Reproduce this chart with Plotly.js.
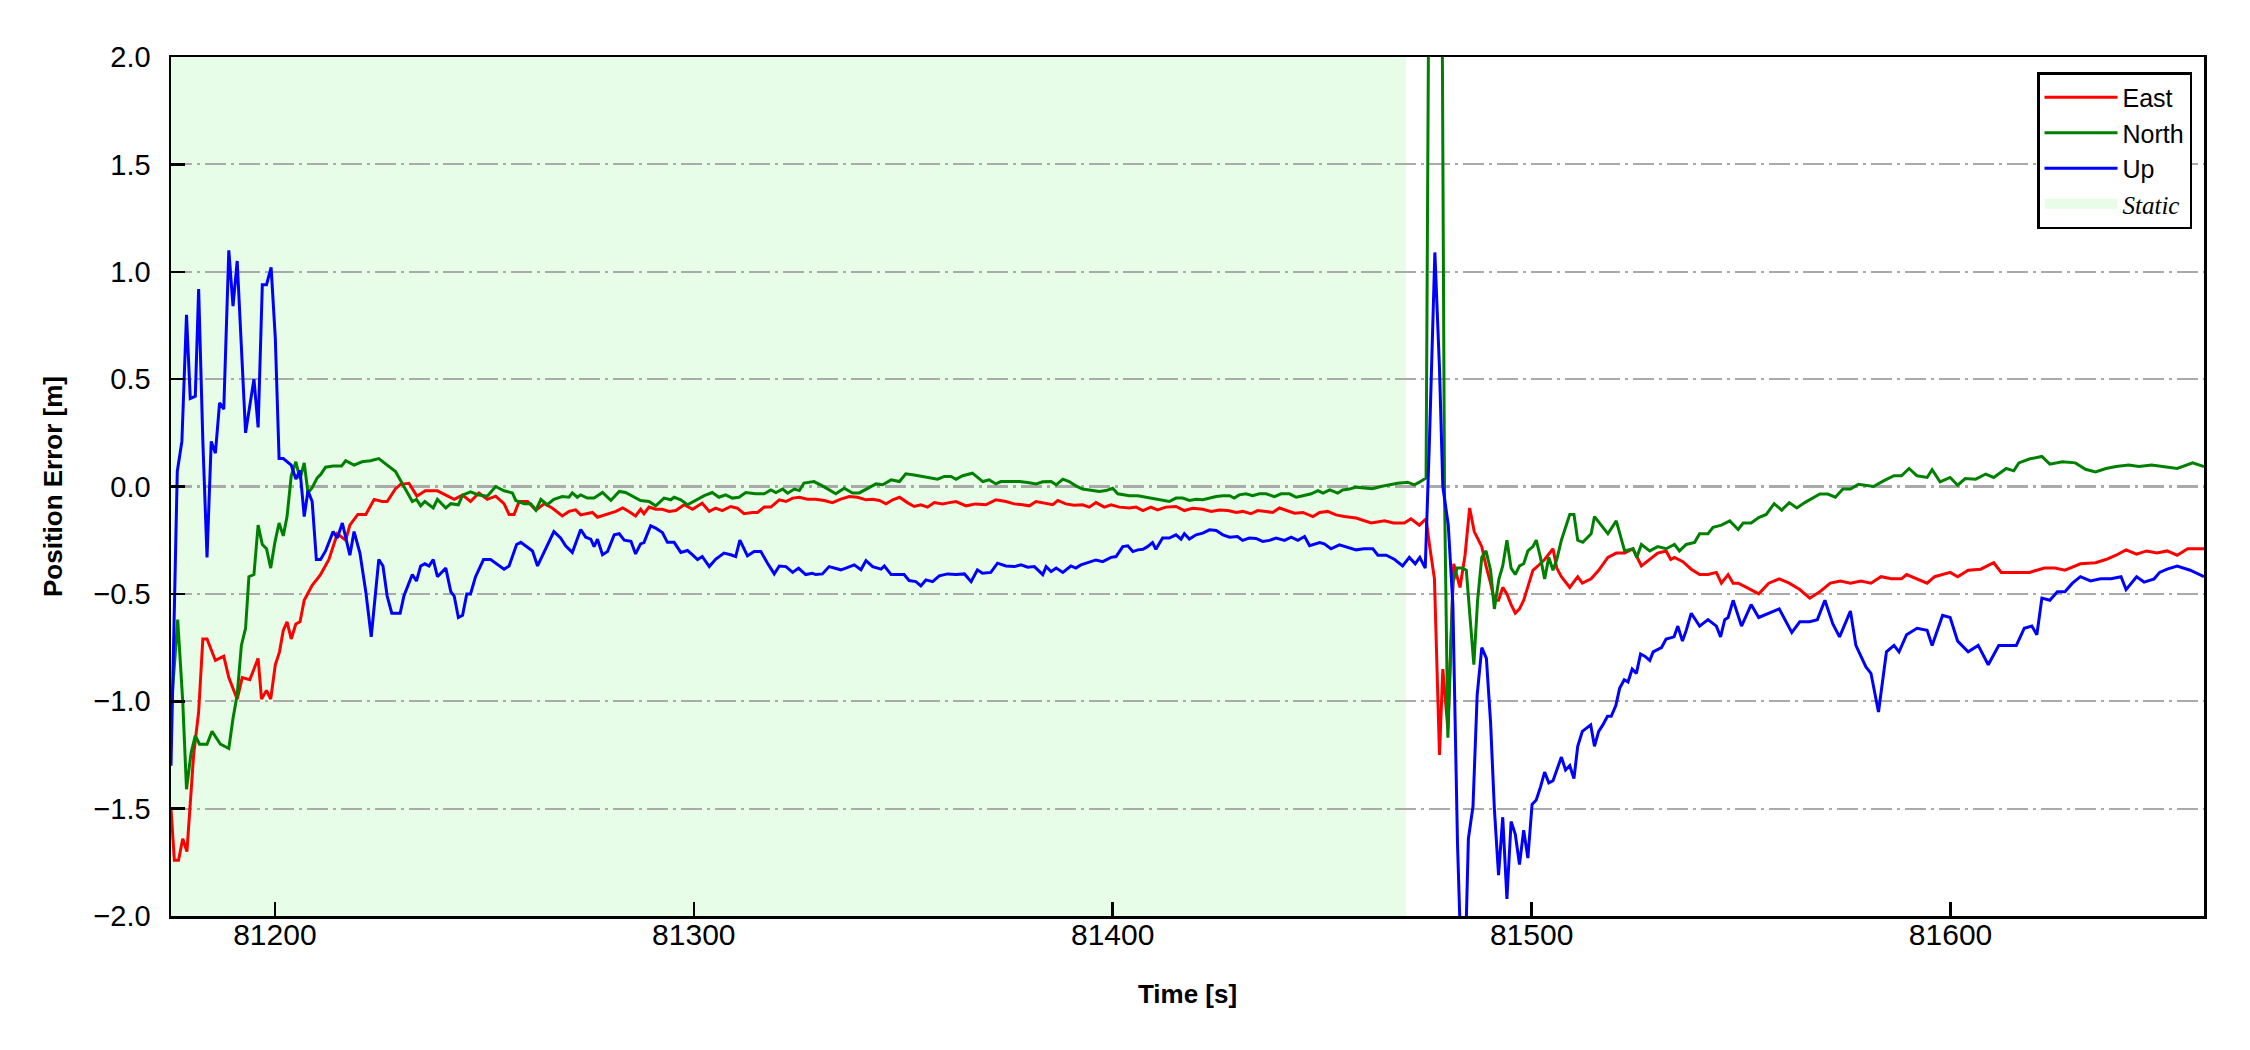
<!DOCTYPE html>
<html>
<head>
<meta charset="utf-8">
<script src="https://cdn.plot.ly/plotly-3.0.1.min.js"></script>
<style>
  html, body { margin: 0; padding: 0; background: #ffffff; }
  #chart { width: 2250px; height: 1050px; }
</style>
</head>
<body>
<div id="chart"></div>
<script>
// ---- Data (time [s], error [m]) ----
const seriesNames = ["East", "North", "Up"];
const staticLabel = "Static";
const staticStart = 81175.2;
const staticEnd = 81470.0;
const timeRange = [81175.2, 81660.5];
const yRange = [-2.0, 2.0];

const eastData = [
[81175.2,-1.50],[81176,-1.74],[81177,-1.74],[81178,-1.64],[81179,-1.70],[81180.6,-1.25],[81181.8,-1.05],[81182.8,-0.71],[81183.8,-0.71],[81185.8,-0.81],[81187.8,-0.79],[81189,-0.89],[81189.8,-0.93],[81191,-0.99],[81192.2,-0.89],[81194,-0.90],[81196,-0.80],[81196.8,-0.99],[81198,-0.95],[81199,-0.99],[81200.1,-0.83],[81201.1,-0.77],[81202,-0.67],[81202.9,-0.63],[81203.9,-0.71],[81205,-0.64],[81206,-0.63],[81207,-0.53],[81208.9,-0.46],[81210.9,-0.41],[81212.9,-0.34],[81214.9,-0.22],[81216.9,-0.25],[81217.9,-0.18],[81219.8,-0.13],[81221.7,-0.13],[81223.7,-0.06],[81225.6,-0.07],[81226.8,-0.07],[81228.8,-0.01],[81230,0.01],[81232,0.015],[81233.9,-0.045],[81235.9,-0.02],[81238.8,-0.02],[81240.8,-0.04],[81242.8,-0.06],[81244.8,-0.04],[81246.7,-0.07],[81248.7,-0.03],[81250.7,-0.06],[81252.7,-0.045],[81254.7,-0.08],[81255.9,-0.13],[81257.1,-0.13],[81258.3,-0.07],[81260.3,-0.07],[81262.3,-0.11],[81264.3,-0.08],[81266.2,-0.10],
[81268.6,-0.137],[81270.2,-0.116],[81271.8,-0.109],[81273,-0.132],[81274.6,-0.124],[81275.8,-0.121],[81277,-0.143],[81278.6,-0.132],[81280.2,-0.121],[81281.4,-0.116],[81283,-0.10],[81284.5,-0.116],[81286.1,-0.137],[81287.3,-0.106],[81288.1,-0.127],[81289.3,-0.096],[81290.9,-0.106],[81292.5,-0.106],[81294.1,-0.116],[81295.7,-0.112],[81297.7,-0.085],[81299.7,-0.106],[81302,-0.078],[81303.7,-0.116],[81305.2,-0.101],[81306.8,-0.112],[81308.8,-0.093],[81310.4,-0.101],[81312,-0.127],[81314,-0.121],[81315.2,-0.121],[81316.8,-0.096],[81318.4,-0.096],[81320.4,-0.062],[81322,-0.07],[81323.6,-0.054],[81325.2,-0.05],[81327.1,-0.059],[81329.1,-0.059],[81331.1,-0.065],[81333.1,-0.075],[81335.1,-0.059],[81337.1,-0.047],[81339.1,-0.05],[81341.1,-0.062],[81342.7,-0.059],[81344.3,-0.065],[81345.9,-0.081],[81347.5,-0.062],[81349.1,-0.05],[81351,-0.075],[81352.6,-0.093],[81354.2,-0.085],[81355.8,-0.096],[81357.4,-0.075],[81359.4,-0.081],[81361,-0.075],[81362.6,-0.07],
[81365,-0.09],[81367.3,-0.081],[81369.7,-0.085],[81372.1,-0.062],[81374.5,-0.07],[81376.5,-0.081],[81378.5,-0.085],[81380.1,-0.09],[81381.7,-0.07],[81383.7,-0.078],[81385.7,-0.085],[81386.9,-0.065],[81388.8,-0.081],[81390.8,-0.087],[81392.8,-0.085],[81394.4,-0.096],[81396,-0.075],[81398,-0.096],[81399.6,-0.085],[81401.6,-0.096],[81404,-0.10],[81405.6,-0.096],[81407.2,-0.112],[81409.1,-0.096],[81410.7,-0.109],[81412.7,-0.096],[81415.1,-0.093],[81417.1,-0.112],[81419.1,-0.101],[81421.5,-0.106],[81423.5,-0.116],[81425.5,-0.109],[81427.5,-0.112],[81429.5,-0.121],[81431,-0.116],[81433,-0.127],[81434.6,-0.112],[81436.6,-0.116],[81438.2,-0.121],[81439.8,-0.10],[81441.4,-0.112],[81443.4,-0.124],[81445.4,-0.121],[81447.8,-0.14],[81449.4,-0.121],[81451.3,-0.116],[81453.3,-0.132],[81455.3,-0.14],[81458.1,-0.147],
[81461.7,-0.17],[81464.9,-0.16],[81467,-0.17],[81469.6,-0.17],[81471.2,-0.15],[81473.2,-0.18],[81474.8,-0.15],[81475.6,-0.27],[81476.8,-0.43],[81478,-1.25],[81478.8,-0.85],[81480,-1.13],[81481.4,-0.36],[81482.9,-0.47],[81484.1,-0.32],[81485.2,-0.10],[81486.3,-0.21],[81488.1,-0.28],[81489.1,-0.37],[81490.2,-0.45],[81491.1,-0.53],[81492.1,-0.53],[81493.1,-0.47],[81494.1,-0.50],[81495.1,-0.55],[81496.1,-0.59],[81497.1,-0.57],[81498.1,-0.53],[81499.1,-0.47],[81500.3,-0.39],[81501.5,-0.37],[81503.1,-0.34],[81505.1,-0.29],[81506,-0.38],[81507.1,-0.42],[81509.1,-0.47],[81511,-0.42],[81512.1,-0.45],[81514.2,-0.43],[81516,-0.39],[81518.2,-0.33],[81520.2,-0.31],[81522.2,-0.31],[81524.2,-0.29],[81526.2,-0.37],[81528.2,-0.34],[81530.1,-0.31],[81532.1,-0.30],[81533.2,-0.34],[81534.1,-0.33],[81536.1,-0.35],[81538.1,-0.385],[81540.1,-0.41],[81542.1,-0.41],[81544.1,-0.40],[81545.3,-0.45],[81546.9,-0.41],[81548.1,-0.45],[81549.3,-0.45],[81551.3,-0.47],
[81554.2,-0.50],[81556.6,-0.45],[81559.1,-0.43],[81561.5,-0.45],[81564,-0.48],[81566.4,-0.52],[81568.8,-0.49],[81571.3,-0.45],[81573.7,-0.44],[81576.1,-0.45],[81578.6,-0.44],[81581,-0.45],[81583.4,-0.42],[81585.9,-0.43],[81588.3,-0.43],[81589.5,-0.41],[81592,-0.43],[81594.4,-0.45],[81596.2,-0.42],[81598.1,-0.41],[81599.9,-0.40],[81601.7,-0.42],[81604.2,-0.39],[81607.2,-0.385],[81610.3,-0.355],[81612.1,-0.40],[81615.1,-0.40],[81618.8,-0.40],[81622.4,-0.38],[81624.9,-0.38],[81627.3,-0.39],[81631,-0.36],[81634.6,-0.355],[81637.1,-0.34],[81639.5,-0.32],[81641.9,-0.295],[81644.4,-0.315],[81646.8,-0.30],[81649.3,-0.31],[81651.7,-0.30],[81654.1,-0.32],[81656.6,-0.29],[81660.5,-0.29]
];

const northData = [
[81175.2,-1.05],[81176.8,-0.62],[81178,-1.0],[81178.9,-1.41],[81180,-1.24],[81181,-1.16],[81182,-1.20],[81183.8,-1.20],[81185,-1.14],[81187,-1.20],[81189,-1.22],[81190,-1.08],[81191,-0.97],[81192,-0.74],[81193,-0.66],[81193.8,-0.42],[81195,-0.41],[81196,-0.18],[81197,-0.27],[81198,-0.29],[81199,-0.38],[81200,-0.26],[81201,-0.17],[81202,-0.23],[81202.9,-0.14],[81203.9,0.05],[81205,0.115],[81206,0.035],[81207,0.11],[81207.9,-0.03],[81208.9,-0.005],[81210.1,0.04],[81210.9,0.055],[81212.1,0.09],[81213.9,0.095],[81215.9,0.095],[81216.9,0.12],[81218.9,0.10],[81220.8,0.115],[81222.8,0.12],[81224.8,0.13],[81226.8,0.10],[81228.8,0.07],[81230.8,0.0],[81232.8,-0.07],[81233.8,-0.06],[81234.8,-0.09],[81235.8,-0.07],[81237.8,-0.10],[81238.8,-0.06],[81240.8,-0.10],[81242,-0.08],[81243.8,-0.085],[81244.8,-0.04],[81246.7,-0.025],[81248.7,-0.04],[81250.7,-0.045],[81252.7,0.0],[81254.7,-0.02],[81256.7,-0.03],[81257.5,-0.065],[81259.5,-0.08],[81261.1,-0.08],[81262.3,-0.11],[81263.5,-0.06],[81265,-0.085],[81266.6,-0.06],
[81268.6,-0.047],[81270.2,-0.05],[81271,-0.03],[81272.2,-0.05],[81273,-0.039],[81274.6,-0.054],[81276.2,-0.054],[81278.2,-0.028],[81280.2,-0.065],[81282.2,-0.023],[81283.7,-0.028],[81285.7,-0.05],[81287.3,-0.065],[81289.3,-0.07],[81290.9,-0.09],[81292.9,-0.054],[81294.5,-0.062],[81295.3,-0.05],[81296.9,-0.062],[81298.5,-0.085],[81300.5,-0.062],[81302.5,-0.043],[81304.4,-0.028],[81306,-0.05],[81307.6,-0.039],[81309.2,-0.054],[81310.8,-0.05],[81312.4,-0.028],[81314.8,-0.034],[81316.8,-0.034],[81318.4,-0.016],[81319.6,-0.028],[81321.2,-0.012],[81322.4,-0.031],[81324,-0.012],[81325.2,-0.019],[81326.3,0.016],[81328.7,0.023],[81330.7,0.003],[81332.3,-0.016],[81333.9,-0.034],[81335.9,-0.008],[81337.9,-0.03],[81339.5,-0.03],[81341.5,-0.008],[81343.5,0.012],[81345.1,0.008],[81347.1,0.031],[81349.1,0.023],[81350.6,0.059],[81352.6,0.054],[81354.6,0.047],[81356.2,0.039],[81358.2,0.034],[81359.8,0.047],[81361.4,0.047],[81362.6,0.034],
[81364.2,0.05],[81366.5,0.062],[81369,0.023],[81370.5,0.031],[81372.1,0.012],[81373.3,0.023],[81375.3,0.023],[81377.7,0.023],[81379.7,0.019],[81381.7,0.012],[81383.3,0.022],[81385.3,0.023],[81386.5,0.008],[81388.1,0.034],[81389.6,0.023],[81391.2,0.003],[81392.8,-0.012],[81395.2,-0.019],[81396.8,-0.023],[81398.4,-0.019],[81400,-0.008],[81401.2,-0.034],[81402.4,-0.039],[81404,-0.043],[81406,-0.043],[81408,-0.05],[81409.9,-0.059],[81411.9,-0.065],[81413.5,-0.07],[81415.1,-0.054],[81416.7,-0.054],[81418.3,-0.065],[81419.9,-0.059],[81421.5,-0.062],[81423.1,-0.054],[81424.7,-0.047],[81426.3,-0.043],[81427.9,-0.043],[81429,-0.054],[81430.2,-0.039],[81431.8,-0.034],[81433.4,-0.043],[81435,-0.034],[81436.6,-0.034],[81438.6,-0.047],[81440.2,-0.034],[81442.2,-0.034],[81443.8,-0.05],[81445.4,-0.043],[81447.4,-0.034],[81449,-0.019],[81450.2,-0.031],[81451.8,-0.016],[81453.7,-0.031],[81454.9,-0.016],[81456.5,-0.012],[81458.1,-0.003],
[81460,-0.005],[81462,-0.01],[81464,0.0],[81466.5,0.01],[81468,0.015],[81470.4,0.02],[81472,0.008],[81473.2,0.02],[81474.8,0.04],[81475.8,3.6],[81476.8,5.5],[81477.9,5.2],[81479.2,-0.03],[81480,-1.17],[81481.2,-0.45],[81482.2,-0.38],[81483.4,-0.38],[81484.4,-0.39],[81485.2,-0.60],[81486.2,-0.83],[81487.1,-0.53],[81488.1,-0.33],[81489.1,-0.30],[81490.2,-0.39],[81491.1,-0.57],[81492.2,-0.43],[81493.1,-0.37],[81494.1,-0.25],[81495.1,-0.38],[81496.1,-0.41],[81497.1,-0.37],[81498.1,-0.36],[81499.1,-0.30],[81500.3,-0.28],[81501.1,-0.25],[81502.1,-0.33],[81503.1,-0.43],[81504.1,-0.33],[81505.1,-0.39],[81506,-0.34],[81507.1,-0.25],[81508.1,-0.19],[81509.1,-0.13],[81510.1,-0.13],[81511,-0.25],[81512.2,-0.26],[81514.2,-0.22],[81515,-0.14],[81516.2,-0.17],[81518.2,-0.22],[81520.2,-0.16],[81522.2,-0.30],[81524.2,-0.29],[81525.1,-0.33],[81526.2,-0.27],[81528.2,-0.30],[81530.1,-0.28],[81532.1,-0.29],[81534.1,-0.27],[81535.3,-0.30],[81536.9,-0.27],[81538.9,-0.26],[81540.1,-0.22],[81542.1,-0.22],[81543.3,-0.19],[81545.3,-0.18],[81547.3,-0.16],[81549.3,-0.20],[81550.5,-0.17],[81552.4,-0.17],
[81554.2,-0.145],[81556,-0.13],[81557.9,-0.08],[81559.7,-0.11],[81561.5,-0.075],[81563.3,-0.10],[81565.2,-0.075],[81567,-0.055],[81568.8,-0.035],[81570.7,-0.035],[81572.5,-0.05],[81574.3,-0.012],[81576.1,-0.012],[81578,0.01],[81579.8,0.006],[81581.6,0.0],[81584,0.026],[81586.5,0.05],[81588.3,0.05],[81590.1,0.084],[81592,0.05],[81594.4,0.042],[81595.6,0.078],[81597.5,0.022],[81599.9,0.042],[81601.7,0.006],[81603.5,0.037],[81606,0.034],[81608.4,0.058],[81610.3,0.042],[81613.3,0.084],[81615.1,0.073],[81616.3,0.11],[81618.8,0.128],[81621.8,0.14],[81623.7,0.104],[81626.7,0.115],[81629.8,0.11],[81632.2,0.08],[81634.6,0.068],[81637.1,0.084],[81639.5,0.093],[81642.5,0.10],[81645,0.093],[81648,0.10],[81651.1,0.093],[81654.1,0.084],[81657.8,0.11],[81660.5,0.093]
];

const upData = [
[81175.2,-1.30],[81176.7,0.07],[81177.8,0.21],[81178.9,0.80],[81179.8,0.41],[81181,0.42],[81181.8,0.92],[81182.8,0.21],[81183.8,-0.33],[81184.8,0.21],[81185.8,0.155],[81186.8,0.39],[81187.8,0.36],[81189,1.10],[81190,0.84],[81191,1.05],[81193,0.25],[81195,0.50],[81196,0.275],[81197,0.94],[81198,0.94],[81199.1,1.02],[81200.1,0.69],[81201,0.13],[81202,0.13],[81203.9,0.10],[81205,0.035],[81206,0.075],[81207,-0.14],[81207.9,-0.02],[81208.9,-0.07],[81209.9,-0.34],[81210.9,-0.34],[81212.1,-0.30],[81213.9,-0.21],[81214.9,-0.24],[81216.1,-0.17],[81217.9,-0.32],[81218.9,-0.21],[81220.3,-0.31],[81221.7,-0.49],[81223,-0.70],[81224.8,-0.34],[81225.8,-0.37],[81226.8,-0.51],[81227.9,-0.59],[81229.9,-0.59],[81230.8,-0.51],[81232.8,-0.41],[81233.8,-0.44],[81234.8,-0.37],[81235.8,-0.36],[81236.8,-0.37],[81237.8,-0.34],[81238.8,-0.42],[81240.8,-0.38],[81242,-0.49],[81242.8,-0.51],[81243.8,-0.61],[81244.8,-0.60],[81245.8,-0.50],[81246.7,-0.50],[81247.9,-0.42],[81249.8,-0.34],[81251.5,-0.34],[81254.7,-0.385],[81255.9,-0.37],[81257.7,-0.27],[81258.7,-0.26],[81261.5,-0.30],[81262.7,-0.37],[81264.6,-0.29],[81266.6,-0.21],
[81268.2,-0.24],[81269.4,-0.276],[81271,-0.307],[81273,-0.20],[81274.2,-0.236],[81275.4,-0.245],[81276.2,-0.28],[81277,-0.245],[81278.2,-0.318],[81279.4,-0.303],[81281,-0.225],[81282.2,-0.22],[81283.4,-0.25],[81285,-0.255],[81286.1,-0.314],[81287.3,-0.267],[81288.1,-0.261],[81289.7,-0.183],[81290.9,-0.194],[81292.5,-0.214],[81293.7,-0.26],[81295.3,-0.26],[81296.9,-0.307],[81298.5,-0.298],[81299.7,-0.318],[81300.9,-0.34],[81302,-0.326],[81303.7,-0.373],[81305.2,-0.339],[81307.2,-0.31],[81308.8,-0.318],[81310,-0.326],[81311,-0.25],[81312.8,-0.323],[81314.4,-0.303],[81316,-0.303],[81317.6,-0.357],[81319.2,-0.407],[81320.4,-0.37],[81322,-0.373],[81323.6,-0.40],[81325,-0.38],[81326.7,-0.41],[81328.3,-0.404],[81329.1,-0.41],[81330.7,-0.407],[81332.3,-0.373],[81333.9,-0.38],[81335.1,-0.388],[81336.3,-0.38],[81338.3,-0.365],[81339.9,-0.388],[81341.1,-0.345],[81342.7,-0.373],[81344.7,-0.385],[81345.5,-0.370],[81347.1,-0.41],[81349.1,-0.41],[81350.2,-0.41],[81351.4,-0.438],[81353,-0.443],[81354.2,-0.463],[81355.4,-0.435],[81357,-0.443],[81358.6,-0.416],[81360.6,-0.407],[81362.6,-0.41],
[81364.6,-0.407],[81366.2,-0.443],[81367.7,-0.388],[81368.9,-0.404],[81370.9,-0.40],[81372.5,-0.357],[81374.5,-0.37],[81376.5,-0.373],[81378.1,-0.365],[81379.7,-0.376],[81381.3,-0.373],[81383.3,-0.41],[81384.1,-0.373],[81385.3,-0.396],[81386.5,-0.38],[81388.1,-0.40],[81390,-0.37],[81391.2,-0.38],[81392.4,-0.365],[81394.4,-0.354],[81396,-0.342],[81397.6,-0.35],[81399.6,-0.33],[81400.8,-0.326],[81402.4,-0.28],[81403.6,-0.276],[81404.8,-0.303],[81406,-0.295],[81407.2,-0.292],[81408.3,-0.28],[81409.5,-0.261],[81410.3,-0.292],[81411.9,-0.24],[81413.5,-0.24],[81415.1,-0.225],[81416.3,-0.245],[81417.1,-0.22],[81418.3,-0.245],[81419.9,-0.225],[81421.5,-0.217],[81423.1,-0.202],[81424.7,-0.205],[81426.3,-0.225],[81427.9,-0.236],[81429.8,-0.233],[81431,-0.251],[81432.6,-0.24],[81434.2,-0.242],[81435.8,-0.256],[81437.4,-0.251],[81439,-0.24],[81441,-0.251],[81442.6,-0.236],[81444.2,-0.251],[81445.8,-0.233],[81447,-0.276],[81449.4,-0.261],[81450.5,-0.267],[81452.1,-0.29],[81454.1,-0.272],[81456.1,-0.283],[81458.1,-0.295],
[81460,-0.29],[81462.1,-0.29],[81463.3,-0.32],[81465.3,-0.32],[81467.3,-0.34],[81469.2,-0.37],[81470.8,-0.33],[81472.2,-0.36],[81473.3,-0.33],[81474.6,-0.38],[81475.6,0.21],[81476.9,1.09],[81478,0.55],[81478.8,0.0],[81480.1,-0.18],[81481.2,-0.55],[81482.3,-1.66],[81483.3,-2.3],[81484.1,-2.25],[81484.9,-1.64],[81486,-1.49],[81487,-0.97],[81488.1,-0.75],[81489.2,-0.80],[81490.2,-1.10],[81491.1,-1.50],[81492.1,-1.81],[81493.1,-1.54],[81494.1,-1.92],[81495.1,-1.56],[81496.1,-1.62],[81497.1,-1.76],[81498.1,-1.60],[81499.1,-1.73],[81500.1,-1.48],[81501.1,-1.46],[81502.1,-1.40],[81503.1,-1.33],[81504.1,-1.38],[81505.1,-1.37],[81507.1,-1.26],[81508.1,-1.32],[81509.1,-1.30],[81510.1,-1.36],[81511,-1.21],[81512.1,-1.14],[81514.1,-1.11],[81515,-1.21],[81516,-1.14],[81517,-1.11],[81518.1,-1.07],[81519,-1.07],[81520.1,-1.02],[81521,-0.94],[81522.1,-0.90],[81523,-0.91],[81524,-0.85],[81525,-0.87],[81526,-0.78],[81527,-0.79],[81528.2,-0.81],[81529,-0.77],[81531,-0.75],[81532.1,-0.71],[81534,-0.70],[81534.9,-0.65],[81536,-0.72],[81536.9,-0.67],[81538.1,-0.59],[81540.1,-0.65],[81542.1,-0.62],[81544.1,-0.65],[81545.1,-0.70],[81546.1,-0.62],[81546.9,-0.61],[81548.1,-0.53],[81550.1,-0.65],[81552.4,-0.55],
[81554.2,-0.61],[81556.6,-0.59],[81559.1,-0.57],[81562.1,-0.68],[81564,-0.63],[81566.4,-0.63],[81568.2,-0.62],[81570,-0.53],[81571.9,-0.64],[81573.5,-0.70],[81576.1,-0.58],[81577.4,-0.74],[81579.8,-0.84],[81581,-0.87],[81582.8,-1.05],[81584.7,-0.77],[81586.5,-0.74],[81587.7,-0.77],[81589.5,-0.69],[81592,-0.66],[81594.4,-0.67],[81595.6,-0.74],[81598.1,-0.60],[81599.9,-0.61],[81601.7,-0.72],[81604.2,-0.77],[81606.6,-0.74],[81609,-0.83],[81611.5,-0.74],[81613.9,-0.74],[81615.7,-0.74],[81617.6,-0.66],[81619.4,-0.65],[81620.6,-0.69],[81621.8,-0.52],[81623.7,-0.53],[81625.5,-0.49],[81627.3,-0.49],[81629.1,-0.45],[81631,-0.42],[81633.4,-0.44],[81635.8,-0.43],[81638.3,-0.43],[81640.7,-0.42],[81641.9,-0.48],[81644.4,-0.42],[81646.2,-0.445],[81648.6,-0.43],[81649.9,-0.40],[81651.7,-0.385],[81654.1,-0.37],[81657.2,-0.39],[81660.5,-0.42]
];

const xTickVals = [81200, 81300, 81400, 81500, 81600];
const yTickVals = [-2.0, -1.5, -1.0, -0.5, 0.0, 0.5, 1.0, 1.5, 2.0];

// ---- Styling ----
const colors = ["#ff0000", "#008000", "#0000ff"];
const staticColor = "rgb(231,253,231)";
const FONT = "'Liberation Sans', Arial, Helvetica, sans-serif";

const allData = [eastData, northData, upData];
const traces = allData.map((d, i) => ({
  type: "scatter",
  mode: "lines",
  name: seriesNames[i],
  x: d.map(p => p[0]),
  y: d.map(p => p[1]),
  line: { color: colors[i], width: 3 },
  legendrank: i + 1,
  hoverinfo: "skip"
}));

// Legend entry for the static period (the region itself is a layout shape)
traces.push({
  type: "scatter",
  mode: "lines",
  name: "<i><span style=\"font-family:'Liberation Serif','Times New Roman',serif\">" + staticLabel + "</span></i>",
  x: [null],
  y: [null],
  line: { color: staticColor, width: 17 },
  legendrank: 4,
  showlegend: true,
  hoverinfo: "skip"
});

const layout = {
  width: 2250,
  height: 1050,
  paper_bgcolor: "#ffffff",
  plot_bgcolor: "#ffffff",
  margin: { l: 171, r: 46, t: 57, b: 134 },
  font: { family: FONT, color: "#000000", size: 29 },
  showlegend: true,
  xaxis: {
    range: timeRange,
    tickvals: xTickVals,
    tickformat: "d",
    ticks: "inside",
    ticklen: 14,
    tickwidth: 2.5,
    tickcolor: "#000000",
    showline: true,
    linewidth: 2.5,
    linecolor: "#000000",
    mirror: true,
    showgrid: false,
    zeroline: false,
    tickfont: { family: FONT, size: 30, color: "#000000" },
    ticklabelstandoff: -10,
    title: { text: "Time [s]", font: { family: FONT, size: 26, color: "#000000", weight: "bold" }, standoff: 36 }
  },
  yaxis: {
    range: yRange,
    tickvals: yTickVals,
    tickformat: ".1f",
    ticks: "inside",
    ticklen: 14,
    tickwidth: 2.5,
    tickcolor: "#000000",
    showline: true,
    linewidth: 2.5,
    linecolor: "#000000",
    mirror: true,
    showgrid: true,
    gridcolor: "#aaaaaa",
    gridwidth: 2.2,
    griddash: "21px,5px,3px,5px",
    zeroline: false,
    tickfont: { family: FONT, size: 29, color: "#000000" },
    ticklabelstandoff: 12,
    title: { text: "Position Error [m]", font: { family: FONT, size: 26, color: "#000000", weight: "bold" }, standoff: 24 }
  },
  shapes: [{
    type: "rect",
    xref: "x", yref: "y",
    x0: staticStart, x1: staticEnd,
    y0: yRange[0], y1: yRange[1],
    fillcolor: staticColor,
    line: { width: 0 },
    layer: "below"
  }],
  legend: {
    x: 0.9941, y: 0.9825,
    xanchor: "right", yanchor: "top",
    bgcolor: "#ffffff",
    bordercolor: "#000000",
    borderwidth: 2.5,
    font: { family: FONT, size: 25, color: "#000000" },
    itemwidth: 73,
    tracegroupgap: 0
  }
};

Plotly.newPlot("chart", traces, layout, { staticPlot: true, displayModeBar: false });
</script>
</body>
</html>
